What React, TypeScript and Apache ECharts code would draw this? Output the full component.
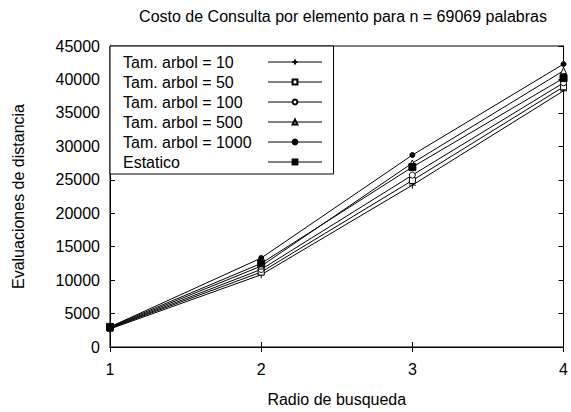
import React, { useEffect, useRef } from "react";
import * as echarts from "echarts";

const radios = [1, 2, 3, 4];
const seriesNames = [
  "Tam. arbol = 10",
  "Tam. arbol = 50",
  "Tam. arbol = 100",
  "Tam. arbol = 500",
  "Tam. arbol = 1000",
  "Estatico",
];
const arbol10 = [2700, 10800, 24200, 38300];
const arbol50 = [2800, 11200, 24900, 38900];
const arbol100 = [2850, 11600, 25700, 39500];
const arbol500 = [2900, 12100, 27500, 41300];
const arbol1000 = [3000, 13300, 28700, 42300];
const estatico = [3000, 12500, 26900, 40200];
const yMin = 0;
const yMax = 45000;
const yStep = 5000;

const allValues = [arbol10, arbol50, arbol100, arbol500, arbol1000, estatico];
const symbols = [
  "path://M0,5L10,5M5,0L5,10",
  "rect",
  "circle",
  "triangle",
  "circle",
  "rect",
];
const symbolSizes = [7, 6, 6, 6, 5, 7];
const filled = [false, false, false, false, true, true];

export default function App() {
  const ref = useRef<HTMLDivElement>(null);
  useEffect(() => {
    const chart = echarts.init(ref.current!, null, { renderer: "svg" });
    const font = "Liberation Sans, Arial, sans-serif";
    const fs = 16;
    const series = allValues.map((vals, i) => ({
      name: seriesNames[i],
      type: "line",
      data: vals.map((v, j) => [radios[j], v]),
      symbol: symbols[i],
      symbolSize: symbolSizes[i],
      showSymbol: true,
      lineStyle: { color: "#000", width: 1 },
      itemStyle: {
        color: filled[i] ? "#000" : "#fff",
        borderColor: "#000",
        borderWidth: 1,
      },
      emphasis: { disabled: true },
    }));
    chart.setOption({
      animation: false,
      backgroundColor: "#fff",
      title: {
        text: "Costo de Consulta por elemento para n = 69069 palabras",
        left: 338,
        top: 3,
        textAlign: "center",
        textStyle: { fontFamily: font, fontSize: fs, fontWeight: "normal", color: "#000" },
      },
      legend: {
        orient: "vertical",
        left: 110,
        top: 46,
        align: "right",
        data: seriesNames,
        itemWidth: 54,
        itemHeight: 6,
        itemGap: 4,
        padding: [8, 11, 4, 13],
        borderColor: "#000",
        borderWidth: 1,
        backgroundColor: "#fff",
        lineStyle: { width: 1 },
        formatter: (name: string) => `{a|${name}}`,
        textStyle: {
          fontFamily: font,
          fontSize: fs,
          color: "#000",
          rich: {
            a: { fontFamily: font, fontSize: fs, color: "#000", width: 140, align: "left", lineHeight: 16 },
          },
        },
      },
      grid: {
        left: 110,
        right: 5,
        top: 46,
        bottom: 65,
        show: true,
        borderColor: "#000",
        borderWidth: 1,
        backgroundColor: "transparent",
      },
      xAxis: [
        {
          type: "value",
          min: 1,
          max: 4,
          interval: 1,
          name: "Radio de busqueda",
          nameLocation: "middle",
          nameGap: 44,
          nameTextStyle: { fontFamily: font, fontSize: fs, color: "#000" },
          axisLine: { show: true, lineStyle: { color: "#000" } },
          axisTick: { show: true, inside: true, length: 5, lineStyle: { color: "#000" } },
          axisLabel: { fontFamily: font, fontSize: fs, color: "#000", margin: 14 },
          splitLine: { show: false },
        },
        {
          type: "value",
          position: "top",
          min: 1,
          max: 4,
          interval: 1,
          axisLine: { show: true, lineStyle: { color: "#000" } },
          axisTick: { show: true, inside: true, length: 5, lineStyle: { color: "#000" } },
          axisLabel: { show: false },
          splitLine: { show: false },
        },
      ],
      yAxis: [
        {
          type: "value",
          min: yMin,
          max: yMax,
          interval: yStep,
          name: "Evaluaciones de distancia",
          nameLocation: "middle",
          nameGap: 84,
          nameTextStyle: { fontFamily: font, fontSize: fs, color: "#000" },
          axisLine: { show: true, lineStyle: { color: "#000" } },
          axisTick: { show: true, inside: true, length: 5, lineStyle: { color: "#000" } },
          axisLabel: {
            fontFamily: font,
            fontSize: fs,
            color: "#000",
            margin: 10,
            formatter: (v: number) => String(v),
          },
          splitLine: { show: false },
        },
        {
          type: "value",
          position: "right",
          min: yMin,
          max: yMax,
          interval: yStep,
          axisLine: { show: true, lineStyle: { color: "#000" } },
          axisTick: { show: true, inside: true, length: 5, lineStyle: { color: "#000" } },
          axisLabel: { show: false },
          splitLine: { show: false },
        },
      ],
      series,
    });
    return () => chart.dispose();
  }, []);
  return <div ref={ref} style={{ width: 571, height: 412, position: "absolute", left: 0, top: 0 }} />;
}
